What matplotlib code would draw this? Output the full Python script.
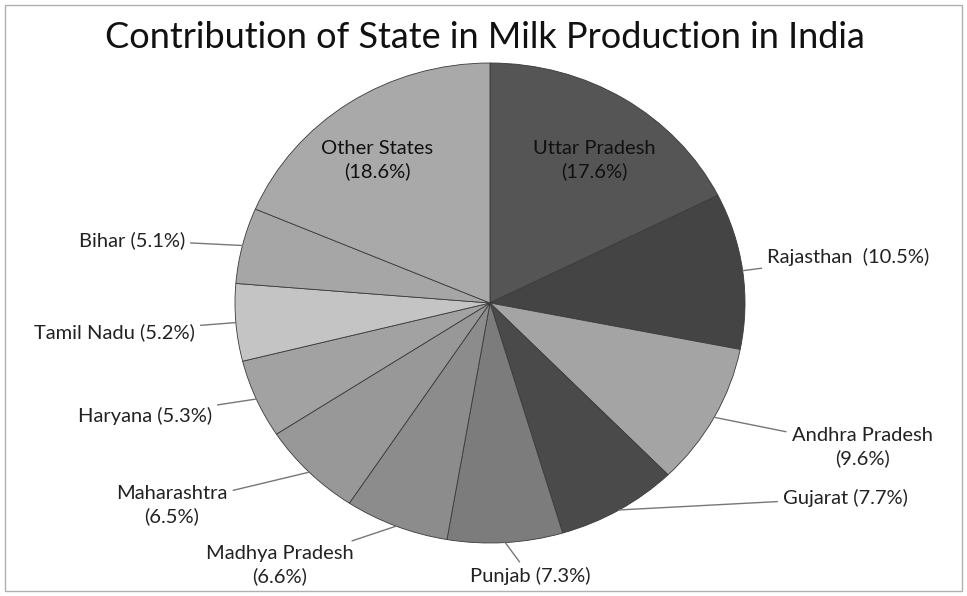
import numpy as np
import matplotlib
matplotlib.use("Agg")
import matplotlib.pyplot as plt
from matplotlib.patches import Rectangle

# Anteile der Bundesstaaten (im Uhrzeigersinn ab 12 Uhr)
states = ["Uttar Pradesh", "Rajasthan", "Andhra Pradesh", "Gujarat", "Punjab",
          "Madhya Pradesh", "Maharashtra", "Haryana", "Tamil Nadu", "Bihar",
          "Other States"]
shares = [17.6, 10.5, 9.6, 7.7, 7.3, 6.6, 6.5, 5.3, 5.2, 5.1, 18.6]
label_texts = ["Uttar Pradesh\n(17.6%)", "Rajasthan  (10.5%)", "Andhra Pradesh\n(9.6%)",
               "Gujarat (7.7%)", "Punjab (7.3%)", "Madhya Pradesh\n(6.6%)",
               "Maharashtra\n(6.5%)", "Haryana (5.3%)", "Tamil Nadu (5.2%)",
               "Bihar (5.1%)", "Other States\n(18.6%)"]

grays = ["#555555", "#444444", "#a4a4a4", "#4a4a4a", "#7c7c7c", "#8c8c8c",
         "#989898", "#a2a2a2", "#c4c4c4", "#a6a6a6", "#a9a9a9"]

# Textpositionen in Pixeln (von oben gemessen), ha
W, H = 967, 596
label_pos = [(594, 160, "center"), (767, 257, "left"), (862, 447, "center"),
             (783, 498, "left"), (530, 576, "center"), (280, 565, "center"),
             (172, 505, "center"), (212, 416, "right"), (195, 332, "right"),
             (185, 240, "right"), (377, 160, "center")]
inside = [0, 10]

plt.rcParams['font.family'] = ['Lato', 'DejaVu Sans']
fs = 14.5

fig = plt.figure(figsize=(W / 100, H / 100), dpi=100)
fig.patch.set_facecolor("white")

cx, cy, rx, ry = 490, 303, 255, 240
ax = fig.add_axes([(cx - rx) / W, (H - cy - ry) / H, 2 * rx / W, 2 * ry / H])
wedges, _ = ax.pie(shares, colors=grays, startangle=90, counterclock=False,
                   radius=1, wedgeprops=dict(edgecolor="#3a3a3a", linewidth=0.6))
ax.set_aspect("auto")
ax.set_xlim(-1, 1)
ax.set_ylim(-1, 1)

for i, w in enumerate(wedges):
    x, y, ha = label_pos[i]
    if i in inside:
        fig.text(x / W, 1 - y / H, label_texts[i], ha="center", va="center",
                 fontsize=fs, color="#111111", linespacing=1.3)
        continue
    ang = np.deg2rad((w.theta1 + w.theta2) / 2)
    ax.annotate(label_texts[i], xy=(np.cos(ang), np.sin(ang)),
                xytext=(x, H - y), textcoords="figure pixels",
                ha=ha, va="center", fontsize=fs, color="#222222",
                multialignment="center", linespacing=1.4,
                arrowprops=dict(arrowstyle="-", color="#777777", lw=1.0,
                                shrinkA=2, shrinkB=0))

fig.text(0.502, 1 - 38 / H, "Contribution of State in Milk Production in India",
         ha="center", va="center", fontsize=26, color="#111111")

fig.patches.append(Rectangle((5 / W, 5 / H), 1 - 10 / W, 1 - 10 / H,
                             transform=fig.transFigure, fill=False,
                             edgecolor="#b0b0b0", lw=1))

fig.savefig("out.png", dpi=100)
